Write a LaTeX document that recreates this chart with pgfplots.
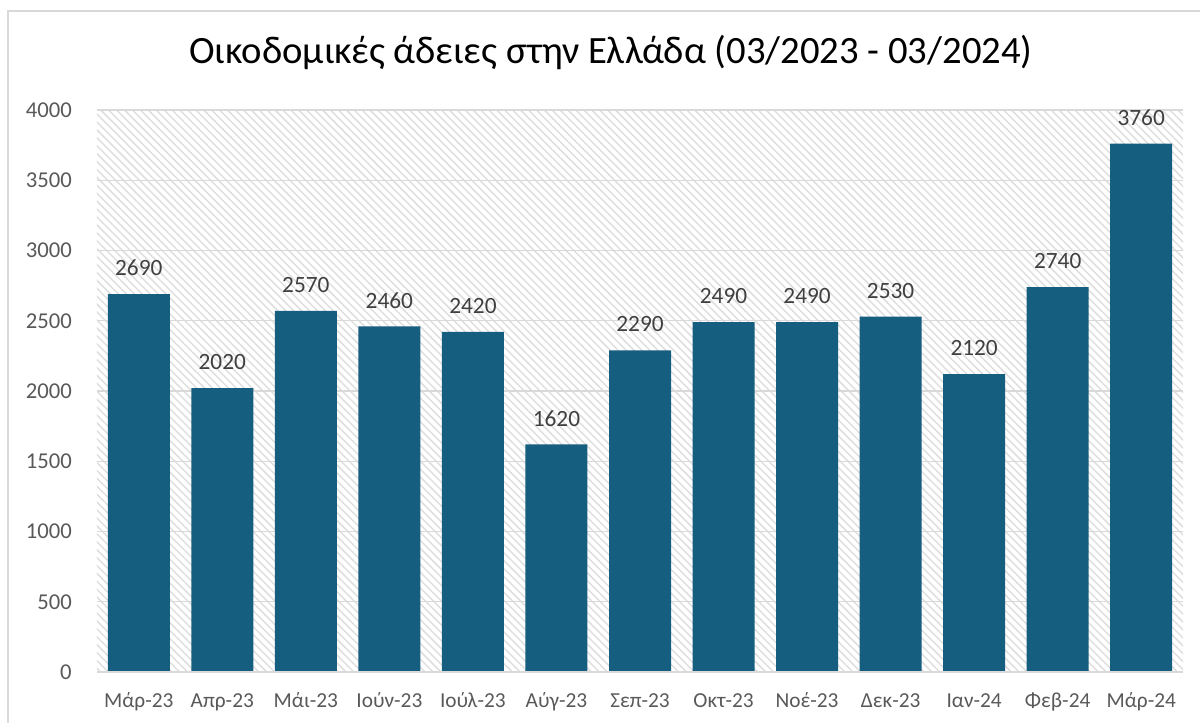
\documentclass[border=0pt]{standalone}
\usepackage{fontspec}
\setmainfont{Carlito}
\usepackage{pgfplots}
\pgfplotsset{compat=1.18}
\usetikzlibrary{patterns.meta}
\definecolor{barblue}{RGB}{22,94,127}
\definecolor{gridgray}{RGB}{217,217,217}
\definecolor{ticktext}{RGB}{89,89,89}
\definecolor{labeltext}{RGB}{64,64,64}
\definecolor{hatchgray}{RGB}{222,222,222}
\begin{document}
\begin{tikzpicture}
% 1 px of the reference = 0.75pt
\useasboundingbox (0,0) rectangle (900pt,541.5pt);
\draw[gridgray, line width=1.5pt] (6pt,-10pt) -- (6pt,533.25pt) -- (910pt,533.25pt);
\node[font=\fontsize{29}{34}\selectfont, anchor=center] at (458.25pt,502.5pt)
  {Οικοδομικές άδειες στην Ελλάδα (03/2023 - 03/2024)};
\begin{axis}[
    at={(72.75pt,37.5pt)}, anchor=south west,
    scale only axis,
    width=814.5pt, height=421.5pt,
    ybar, bar width=46.5pt,
    xmin=-0.5, xmax=12.5, ymin=0, ymax=4000,
    xtick={0,...,12},
    xticklabels={Μάρ-23,Απρ-23,Μάι-23,Ιούν-23,Ιούλ-23,Αύγ-23,Σεπ-23,Οκτ-23,Νοέ-23,Δεκ-23,Ιαν-24,Φεβ-24,Μάρ-24},
    ytick={0,500,...,4000},
    major tick length=0pt,
    axis line style={draw=none},
    ymajorgrids, grid style={gridgray, line width=1pt},
    axis background/.style={pattern={Lines[angle=-45,distance=4.2pt,line width=1.1pt]}, pattern color=hatchgray},
    /pgf/number format/assume math mode=true,
    scaled y ticks=false,
    yticklabel style={font=\fontsize{17}{20}\selectfont, text=ticktext, inner sep=0pt, anchor=east, xshift=-18.75pt,
      /pgf/number format/.cd, fixed, 1000 sep={}},
    xticklabel style={font=\fontsize{16}{20}\selectfont, text=ticktext, inner sep=0pt, anchor=base, yshift=-26.25pt},
    nodes near coords,
    nodes near coords style={font=\fontsize{17.5}{20}\selectfont, text=labeltext, inner sep=0pt, anchor=center, yshift=19.5pt,
      /pgf/number format/.cd, fixed, 1000 sep={}},
]
\addplot[fill=barblue, draw=none] coordinates {
(0,2690)(1,2020)(2,2570)(3,2460)(4,2420)(5,1620)(6,2290)
(7,2490)(8,2490)(9,2530)(10,2120)(11,2740)(12,3760)
};
\draw[gridgray, line width=1.2pt] (rel axis cs:0,0) -- (rel axis cs:1,0);
\end{axis}
\end{tikzpicture}
\end{document}
